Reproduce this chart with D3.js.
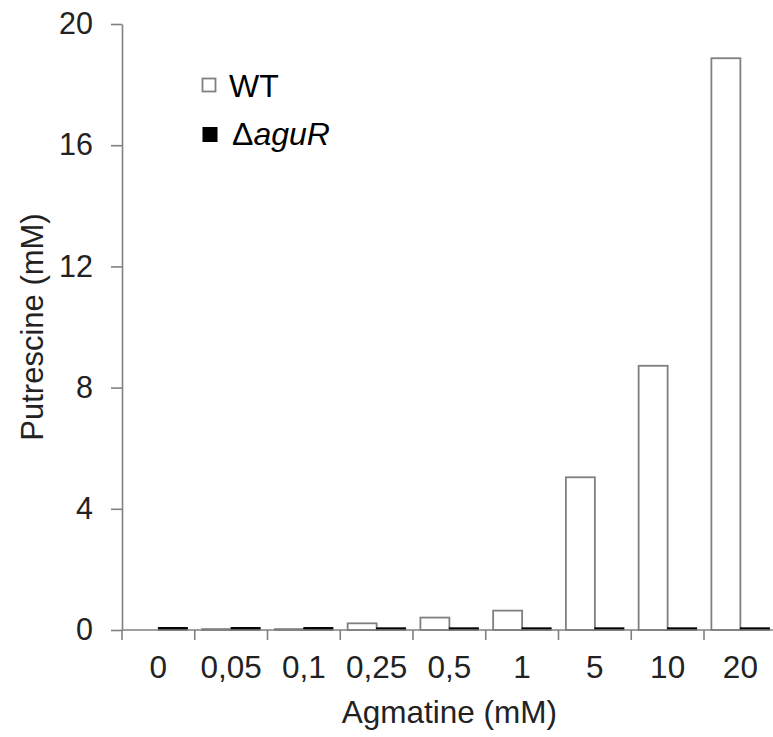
<!DOCTYPE html>
<html>
<head>
<meta charset="utf-8">
<script src="https://cdn.jsdelivr.net/npm/d3@7"></script>
<style>
  body { margin: 0; background: #fff; }
  svg { display: block; font-family: "Liberation Sans", Arial, sans-serif; }
</style>
</head>
<body>
<script>
var agmatine = ["0", "0,05", "0,1", "0,25", "0,5", "1", "5", "10", "20"];
var wtValues = [0, 0.03, 0.03, 0.22, 0.41, 0.64, 5.04, 8.72, 18.87];
var aguRValues = [0.08, 0.08, 0.08, 0.07, 0.07, 0.07, 0.07, 0.07, 0.07];
var yTicks = [0, 4, 8, 12, 16, 20];

var width = 773, height = 737;
var plotLeft = 122, plotTop = 24, plotBottom = 630, step = 72.75;

var svg = d3.select("body").append("svg")
  .attr("width", width)
  .attr("height", height);

var x = d3.scaleBand()
  .domain(agmatine)
  .range([plotLeft, plotLeft + step * agmatine.length])
  .paddingInner(0).paddingOuter(0);

var xSub = d3.scaleBand()
  .domain(["wt", "aguR"])
  .range([0, x.bandwidth()])
  .paddingInner(0).paddingOuter(0.255);

var y = d3.scaleLinear().domain([0, 20]).range([plotBottom, plotTop]);

var rows = agmatine.map(function(c, i) {
  return { cat: c, wt: wtValues[i], aguR: aguRValues[i] };
});

// bars
var group = svg.selectAll("g.cat")
  .data(rows)
  .enter().append("g")
  .attr("class", "cat")
  .attr("transform", function(d) { return "translate(" + x(d.cat) + ",0)"; });

group.append("rect")
  .attr("x", xSub("wt"))
  .attr("y", function(d) { return y(d.wt); })
  .attr("width", xSub.bandwidth())
  .attr("height", function(d) { return y(0) - y(d.wt); })
  .attr("fill", "#fff")
  .attr("stroke", function(d) { return d.wt > 0 ? "#808080" : "none"; })
  .attr("stroke-width", 1.8);

group.append("rect")
  .attr("x", xSub("aguR"))
  .attr("y", function(d) { return y(d.aguR); })
  .attr("width", xSub.bandwidth())
  .attr("height", function(d) { return y(0) - y(d.aguR); })
  .attr("fill", "#000")
  .attr("stroke", "#000")
  .attr("stroke-width", 1);

// y axis
var yAxis = svg.append("g")
  .attr("transform", "translate(" + plotLeft + ",0)")
  .call(d3.axisLeft(y).tickValues(yTicks).tickSize(11).tickSizeOuter(0).tickPadding(18));
yAxis.select(".domain").attr("stroke", "#808080").attr("stroke-width", 1.6);
yAxis.selectAll(".tick line").attr("stroke", "#808080").attr("stroke-width", 1.6);
yAxis.selectAll(".tick text")
  .attr("font-size", 30.5)
  .attr("font-family", "Liberation Sans, Arial, sans-serif")
  .attr("fill", "#222");

// x axis: labels centred, ticks at band edges
var xAxis = svg.append("g")
  .attr("transform", "translate(0," + plotBottom + ")")
  .call(d3.axisBottom(x).tickSize(0).tickPadding(26));
xAxis.select(".domain").remove();
xAxis.selectAll(".tick text")
  .attr("font-size", 31.5)
  .attr("font-family", "Liberation Sans, Arial, sans-serif")
  .attr("fill", "#222");

var edges = agmatine.map(function(c) { return x(c); }).concat([x.range()[1]]);
svg.append("line")
  .attr("x1", plotLeft).attr("x2", x.range()[1])
  .attr("y1", plotBottom).attr("y2", plotBottom)
  .attr("stroke", "#808080").attr("stroke-width", 1.6);
svg.selectAll("line.edge")
  .data(edges)
  .enter().append("line")
  .attr("class", "edge")
  .attr("x1", function(d) { return d; }).attr("x2", function(d) { return d; })
  .attr("y1", plotBottom).attr("y2", plotBottom + 10)
  .attr("stroke", "#808080").attr("stroke-width", 1.6);

// axis titles
svg.append("text")
  .attr("x", (plotLeft + x.range()[1]) / 2)
  .attr("y", 723)
  .attr("text-anchor", "middle")
  .attr("font-size", 31.5)
  .attr("fill", "#222")
  .text("Agmatine (mM)");

svg.append("text")
  .attr("transform", "translate(43," + (plotTop + plotBottom) / 2 + ") rotate(-90)")
  .attr("text-anchor", "middle")
  .attr("font-size", 31)
  .attr("fill", "#222")
  .text("Putrescine (mM)");

// legend
var legend = svg.append("g").attr("transform", "translate(202,78)");
legend.append("rect")
  .attr("x", 0.5).attr("y", 0.5).attr("width", 13).attr("height", 13)
  .attr("fill", "#fff").attr("stroke", "#808080").attr("stroke-width", 1.8);
legend.append("text")
  .attr("x", 27).attr("y", 19)
  .attr("font-size", 32)
  .attr("fill", "#000")
  .text("WT");
legend.append("rect")
  .attr("x", 0.5).attr("y", 49).attr("width", 15).attr("height", 15)
  .attr("fill", "#000");
var lab = legend.append("text")
  .attr("x", 30).attr("y", 67)
  .attr("font-size", 32)
  .attr("fill", "#000");
lab.append("tspan").text("\u0394");
lab.append("tspan").attr("font-style", "italic").text("aguR");
</script>
</body>
</html>
